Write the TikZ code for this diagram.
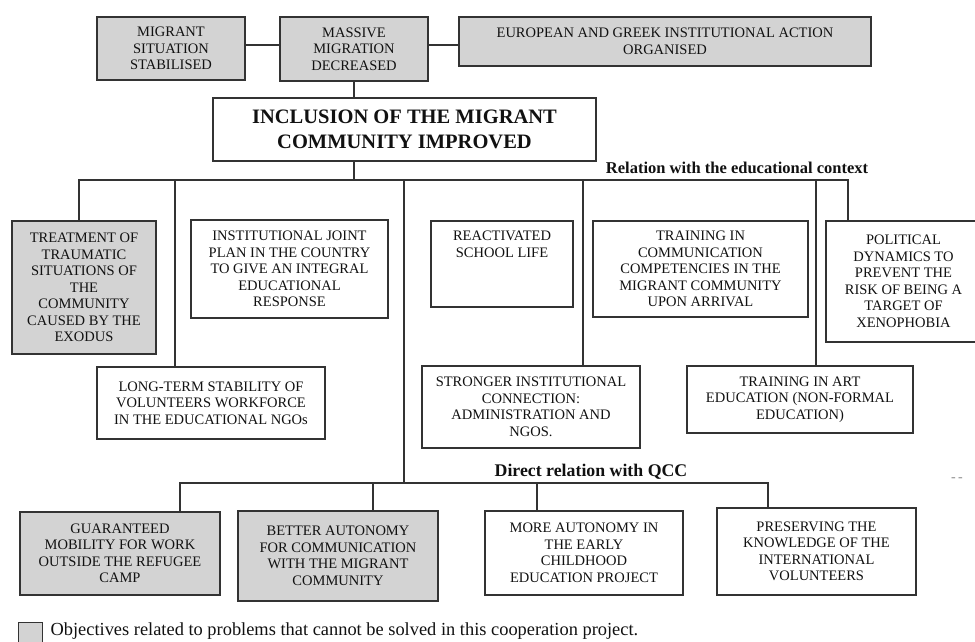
\documentclass[tikz,border=0pt]{standalone}
\usepackage{fontspec}
\setmainfont{Liberation Serif}
\usepackage{xcolor}

\definecolor{boxgray}{HTML}{D3D3D3}
\definecolor{linegray}{HTML}{333333}
\definecolor{inkgray}{HTML}{111111}

\begin{document}
\begin{tikzpicture}[x=1pt,y=-1pt,line width=1.2pt,draw=linegray,
    every node/.style={font=\fontsize{14.5}{16.5}\selectfont,text=inkgray,align=center,inner sep=0pt},
    obj/.style={draw=linegray,fill=white},
    lost/.style={obj,fill=boxgray},
    head/.style={font=\fontsize{16.5}{19}\selectfont\bfseries}]
    \path[use as bounding box,fill=white] (0,0) rectangle (975,641);
    % upper objectives
    \node[lost,minimum width=148pt,minimum height=63pt] (stab) at (171,48.5) {MIGRANT\\SITUATION\\STABILISED};
    \node[lost,minimum width=148pt,minimum height=64pt] (decr) at (354,49) {MASSIVE\\MIGRATION\\DECREASED};
    \node[lost,minimum width=412pt,minimum height=49pt] (euro) at (665,41.5) {EUROPEAN AND GREEK INSTITUTIONAL ACTION\\ORGANISED};
    \node[obj,minimum width=383pt,minimum height=63pt,font=\fontsize{20.5}{25}\selectfont\bfseries] (incl) at (404.5,129.5) {INCLUSION OF THE MIGRANT\\COMMUNITY IMPROVED};
    \coordinate (toprow) at (0,45);
    % educational context
    \node[head] (edulab) at (737,168) {Relation with the educational context};
    \node[lost,minimum width=144pt,minimum height=133pt] (treat) at (84,287.5) {TREATMENT OF\\TRAUMATIC\\SITUATIONS OF\\THE\\COMMUNITY\\CAUSED BY THE\\EXODUS};
    \node[obj,minimum width=197pt,minimum height=98pt] (joint) at (289.5,269) {INSTITUTIONAL JOINT\\PLAN IN THE COUNTRY\\TO GIVE AN INTEGRAL\\EDUCATIONAL\\RESPONSE};
    \node[obj,minimum width=142pt,minimum height=86pt,
      label={[anchor=north,yshift=-10pt]north:{REACTIVATED\\SCHOOL LIFE}}] (react) at (502,264) {};
    \node[obj,minimum width=215pt,minimum height=96pt] (train) at (700.5,269) {TRAINING IN\\COMMUNICATION\\COMPETENCIES IN THE\\MIGRANT COMMUNITY\\UPON ARRIVAL};
    \node[obj,minimum width=155pt,minimum height=121pt] (polit) at (903.5,281.5) {POLITICAL\\DYNAMICS TO\\PREVENT THE\\RISK OF BEING A\\TARGET OF\\XENOPHOBIA};
    \node[obj,minimum width=228pt,minimum height=72pt] (longterm) at (211,403) {LONG-TERM STABILITY OF\\VOLUNTEERS WORKFORCE\\IN THE EDUCATIONAL NGOs};
    \node[obj,minimum width=218pt,minimum height=82pt] (strong) at (531,407) {STRONGER INSTITUTIONAL\\CONNECTION:\\ADMINISTRATION AND\\NGOS.};
    \node[obj,minimum width=226pt,minimum height=67pt] (art) at (800,399.5) {TRAINING IN ART\\EDUCATION (NON-FORMAL\\EDUCATION)};
    \coordinate (e1) at (79,180);
    \coordinate (e2) at (175,180);
    \coordinate (e3) at (404,180);
    \coordinate (e4) at (583,180);
    \coordinate (e5) at (816,180);
    \coordinate (e6) at (848,180);
    % direct relation with QCC
    \node[head,font=\fontsize{17.8}{20}\selectfont\bfseries] (qcclab) at (591,472) {Direct relation with QCC};
    \node[lost,minimum width=200pt,minimum height=83pt] (guar) at (120,553.5) {GUARANTEED\\MOBILITY FOR WORK\\OUTSIDE THE REFUGEE\\CAMP};
    \node[lost,minimum width=200pt,minimum height=90pt] (better) at (338,556) {BETTER AUTONOMY\\FOR COMMUNICATION\\WITH THE MIGRANT\\COMMUNITY};
    \node[obj,minimum width=198pt,minimum height=84pt] (more) at (584,553) {MORE AUTONOMY IN\\THE EARLY\\CHILDHOOD\\EDUCATION PROJECT};
    \node[obj,minimum width=199pt,minimum height=87pt] (pres) at (816.5,551.5) {PRESERVING THE\\KNOWLEDGE OF THE\\INTERNATIONAL\\VOLUNTEERS};
    \coordinate (q1) at (180,483);
    \coordinate (q2) at (373,483);
    \coordinate (q3) at (537,483);
    \coordinate (q4) at (768,483);
    \node[text=gray!80,font=\fontsize{14}{14}\selectfont\bfseries] (dash) at (957,480) {-\,-};
    % legend
    \node[lost,minimum width=24pt,minimum height=24pt,anchor=north west] (key) at (18,622) {};
    \node[anchor=base west,font=\fontsize{18.4}{20}\selectfont] (keytext) at (50,635.5) {Objectives related to problems that cannot be solved in this cooperation project.};
    % connectors
    \draw (stab.east |- toprow) to (decr.west |- toprow);
    \draw (decr.east |- toprow) to (euro.west |- toprow);
    \draw (decr.south) to (decr.south |- incl.north);
    \draw (decr.south |- incl.south) to (decr.south |- e1);
    \draw (e1 |- treat.north) -- (e1) -- (e6) -- (e6 |- polit.north);
    \draw (e2) to (e2 |- longterm.north);
    \draw (e3) to (e3 |- q1);
    \draw (e4) to (e4 |- strong.north);
    \draw (e5) to (e5 |- art.north);
    \draw (q1 |- guar.north) -- (q1) -- (q4) -- (q4 |- pres.north);
    \draw (q2) to (q2 |- better.north);
    \draw (q3) to (q3 |- more.north);
\end{tikzpicture}
\end{document}
